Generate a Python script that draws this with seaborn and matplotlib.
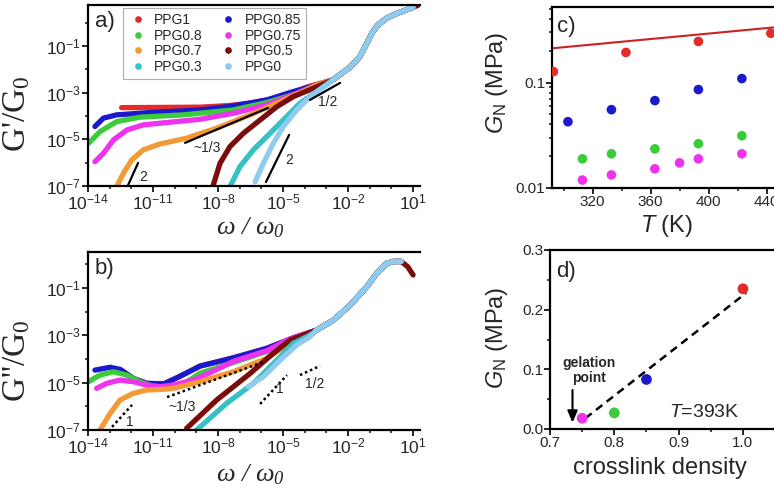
import numpy as np
import pandas as pd
import matplotlib
matplotlib.use("Agg")
import matplotlib.pyplot as plt
import matplotlib.ticker as mticker
from matplotlib.lines import Line2D
import seaborn as sns

###############
# chart data  #
###############
# samples in drawing order (later ones sit on top)
samples = ['PPG1', 'PPG0.85', 'PPG0.8', 'PPG0.75', 'PPG0.7', 'PPG0.5', 'PPG0.3', 'PPG0']
colors = ['#e32b2b', '#1a1acc', '#3bcc3b', '#ee33ee', '#f39a36', '#7b0c0c', '#35c1c6', '#8ecbee']
legend_order = ['PPG1', 'PPG0.8', 'PPG0.7', 'PPG0.3', 'PPG0.85', 'PPG0.75', 'PPG0.5', 'PPG0']

# panel a: G'/G0, log10 values
# shared high frequency master curve
gp_master_x = [-2.7, -1.9, -1.45, -1.15, -0.9, -0.65, -0.25, 0.2, 0.6, 1.0]
gp_master_y = [-2.45, -1.9, -1.45, -0.9, -0.45, -0.12, 0.18, 0.38, 0.52, 0.66]
# low frequency part of every sample
gp_x_ppg1 = [-12.45, -10.5, -8.83, -7.5, -6.52, -5.0, -3.91]
gp_y_ppg1 = [-3.64, -3.63, -3.62, -3.55, -3.45, -3.17, -2.76]
gp_x_ppg085 = [-13.68, -13.29, -12.68, -11.14, -8.83, -7.3, -5.75, -4.53, -3.6]
gp_y_ppg085 = [-4.45, -4.09, -3.95, -3.85, -3.74, -3.57, -3.31, -2.95, -2.72]
gp_x_ppg08 = [-13.98, -13.45, -12.68, -11.6, -9.6, -7.29, -5.75, -4.22, -3.5]
gp_y_ppg08 = [-5.17, -4.67, -4.24, -4.05, -3.95, -3.74, -3.42, -3.0, -2.75]
gp_x_ppg075 = [-13.68, -13.29, -12.83, -12.21, -11.45, -10.37, -8.83, -7.29, -5.75, -4.53, -3.61]
gp_y_ppg075 = [-5.96, -5.6, -5.03, -4.6, -4.38, -4.28, -4.14, -3.88, -3.52, -3.09, -2.74]
gp_x_ppg07 = [-12.68, -12.37, -11.98, -11.45, -10.68, -9.45, -8.06, -6.52, -5.29, -4.22, -3.45]
gp_y_ppg07 = [-7.03, -6.46, -5.88, -5.45, -5.2, -4.95, -4.52, -3.95, -3.45, -3.0, -2.67]
gp_x_ppg05 = [-8.22, -7.91, -7.45, -6.83, -6.06, -5.29, -4.53, -3.6]
gp_y_ppg05 = [-6.96, -6.03, -5.31, -4.74, -4.17, -3.6, -3.17, -2.81]
gp_x_ppg03 = [-7.45, -6.99, -6.37, -5.75, -4.99, -4.22, -3.45]
gp_y_ppg03 = [-7.03, -6.17, -5.45, -4.88, -4.17, -3.45, -2.95]
gp_x_ppg0 = [-6.29, -5.91, -5.45, -4.99, -4.37, -3.76, -2.99]
gp_y_ppg0 = [-6.82, -6.03, -5.17, -4.45, -3.74, -3.17, -2.67]
gp_tail_x_ppg05 = [1.3]
gp_tail_y_ppg05 = [0.78]

# panel b: G''/G0
gpp_master_x = [-3.45, -2.68, -1.91, -1.14, -0.68, -0.22, 0.1, 0.45]
gpp_master_y = [-2.78, -2.36, -1.73, -0.95, -0.39, 0.04, 0.12, 0.12]
gpp_x_ppg1 = [-12.52, -11.91, -11.29, -10.5, -9.8, -8.83, -7.29, -5.75, -4.5]
gpp_y_ppg1 = [-4.44, -4.82, -5.03, -5.05, -4.75, -4.3, -3.95, -3.55, -3.1]
gpp_x_ppg085 = [-13.68, -12.98, -12.52, -11.91, -11.29, -10.5, -9.8, -8.83, -7.29, -5.75, -4.5]
gpp_y_ppg085 = [-4.47, -4.35, -4.44, -4.82, -5.03, -5.05, -4.75, -4.3, -3.95, -3.55, -3.1]
gpp_x_ppg08 = [-13.98, -13.45, -12.83, -12.21, -11.6, -10.99, -10.37, -9.5, -8.83, -7.29, -5.75, -4.5]
gpp_y_ppg08 = [-4.96, -4.68, -4.54, -4.68, -4.96, -5.17, -5.24, -5.0, -4.6, -4.15, -3.68, -3.12]
gpp_x_ppg075 = [-13.6, -13.14, -12.52, -11.91, -11.29, -10.68, -10.06, -9.14, -8.3, -7.29, -5.75, -4.68]
gpp_y_ppg075 = [-5.24, -5.03, -4.89, -4.96, -5.1, -5.17, -5.1, -4.89, -4.55, -4.1, -3.65, -3.15]
gpp_x_ppg07 = [-13.45, -12.98, -12.52, -11.91, -11.29, -10.52, -10.06, -8.83, -7.29, -5.75, -4.83, -4.22]
gpp_y_ppg07 = [-7.0, -6.3, -5.73, -5.45, -5.31, -5.28, -5.24, -4.96, -4.54, -3.97, -3.41, -3.13]
gpp_x_ppg05 = [-9.45, -8.06, -6.52, -5.45, -4.68]
gpp_y_ppg05 = [-6.93, -5.73, -4.61, -3.76, -3.2]
gpp_x_ppg03 = [-8.99, -7.6, -6.37, -5.29, -4.53, -3.6]
gpp_y_ppg03 = [-7.0, -5.87, -5.03, -4.05, -3.34, -2.92]
gpp_x_ppg0 = [-6.6, -5.91, -5.14, -4.37, -3.8]
gpp_y_ppg0 = [-5.17, -4.75, -4.05, -3.41, -3.08]
gpp_tail_x_ppg05 = [0.75, 1.0]
gpp_tail_y_ppg05 = [-0.1, -0.45]

# scaling guide lines (log10 x0, x1, y0, y1) and their labels
a_guides = [(-9.52, -5.69, -5.15, -3.65), (-12.15, -11.69, -6.96, -6.01),
            (-5.79, -4.72, -6.83, -4.81), (-3.76, -2.37, -3.31, -2.58)]
a_guide_text = [('~1/3', -8.5, -5.37), ('2', -11.46, -6.61), ('2', -4.72, -5.88), ('1/2', -2.92, -3.39)]
b_guides = [(-12.89, -11.97, -6.87, -5.94), (-10.35, -5.92, -5.61, -4.13),
            (-6.06, -4.82, -5.90, -4.68), (-4.22, -3.29, -4.68, -4.29)]
b_guide_text = [('1', -12.06, -6.66), ('~1/3', -9.66, -6.03), ('1', -5.14, -5.26), ('1/2', -3.52, -5.06)]

# panel c: plateau modulus vs temperature
c_T_ppg1 = [293, 343, 393, 443]
c_G_ppg1 = [0.127, 0.193, 0.245, 0.293]
c_T_ppg085 = [303, 333, 363, 393, 423]
c_G_ppg085 = [0.0425, 0.0553, 0.0674, 0.0858, 0.109]
c_T_ppg08 = [313, 333, 363, 393, 423]
c_G_ppg08 = [0.0189, 0.0211, 0.0235, 0.0263, 0.0313]
c_T_ppg075 = [313, 333, 363, 380, 393, 423]
c_G_ppg075 = [0.0119, 0.0133, 0.0152, 0.0173, 0.0189, 0.0211]
c_fit_T = [292, 450]
c_fit_G = [0.211, 0.338]

# panel d: plateau modulus vs crosslink density at 393 K
d_density = [1.0, 0.85, 0.8, 0.75]
d_GN = [0.235, 0.083, 0.027, 0.018]
d_samples = ['PPG1', 'PPG0.85', 'PPG0.8', 'PPG0.75']
d_fit_x = [0.755, 1.005]
d_fit_y = [0.018, 0.228]

######################
# build data frames  #
######################
def curve(name, lx, ly, mx, my, tx=(), ty=()):
    lw = np.r_[lx, mx, tx]
    lg = np.r_[ly, my, ty]
    return pd.DataFrame({'sample': name, 'w': 10.0 ** lw, 'G': 10.0 ** lg})

df_a = pd.concat([
    curve('PPG1', gp_x_ppg1, gp_y_ppg1, gp_master_x, gp_master_y),
    curve('PPG0.85', gp_x_ppg085, gp_y_ppg085, gp_master_x, gp_master_y),
    curve('PPG0.8', gp_x_ppg08, gp_y_ppg08, gp_master_x, gp_master_y),
    curve('PPG0.75', gp_x_ppg075, gp_y_ppg075, gp_master_x, gp_master_y),
    curve('PPG0.7', gp_x_ppg07, gp_y_ppg07, gp_master_x, gp_master_y),
    curve('PPG0.5', gp_x_ppg05, gp_y_ppg05, gp_master_x, gp_master_y, gp_tail_x_ppg05, gp_tail_y_ppg05),
    curve('PPG0.3', gp_x_ppg03, gp_y_ppg03, gp_master_x, gp_master_y),
    curve('PPG0', gp_x_ppg0, gp_y_ppg0, gp_master_x, gp_master_y),
])
df_b = pd.concat([
    curve('PPG1', gpp_x_ppg1, gpp_y_ppg1, gpp_master_x, gpp_master_y),
    curve('PPG0.85', gpp_x_ppg085, gpp_y_ppg085, gpp_master_x, gpp_master_y),
    curve('PPG0.8', gpp_x_ppg08, gpp_y_ppg08, gpp_master_x, gpp_master_y),
    curve('PPG0.75', gpp_x_ppg075, gpp_y_ppg075, gpp_master_x, gpp_master_y),
    curve('PPG0.7', gpp_x_ppg07, gpp_y_ppg07, gpp_master_x, gpp_master_y),
    curve('PPG0.5', gpp_x_ppg05, gpp_y_ppg05, gpp_master_x, gpp_master_y, gpp_tail_x_ppg05, gpp_tail_y_ppg05),
    curve('PPG0.3', gpp_x_ppg03, gpp_y_ppg03, gpp_master_x, gpp_master_y),
    curve('PPG0', gpp_x_ppg0, gpp_y_ppg0, gpp_master_x, gpp_master_y),
])
df_c = pd.concat([
    pd.DataFrame({'sample': 'PPG1', 'T': c_T_ppg1, 'G': c_G_ppg1}),
    pd.DataFrame({'sample': 'PPG0.85', 'T': c_T_ppg085, 'G': c_G_ppg085}),
    pd.DataFrame({'sample': 'PPG0.8', 'T': c_T_ppg08, 'G': c_G_ppg08}),
    pd.DataFrame({'sample': 'PPG0.75', 'T': c_T_ppg075, 'G': c_G_ppg075}),
])
df_d = pd.DataFrame({'sample': d_samples, 'x': d_density, 'G': d_GN})
pal = dict(zip(samples, colors))

#########
# style #
#########
sns.set_style('ticks')
plt.rcParams['font.family'] = ['Liberation Sans', 'DejaVu Sans']
plt.rcParams['mathtext.fontset'] = 'custom'
plt.rcParams['mathtext.rm'] = 'Liberation Sans'
plt.rcParams['mathtext.it'] = 'Liberation Sans:italic'
plt.rcParams['mathtext.bf'] = 'Liberation Sans:bold'
plt.rcParams['mathtext.default'] = 'regular'
plt.rcParams['axes.linewidth'] = 1.6
plt.rcParams['axes.edgecolor'] = 'black'

W, H = 774, 493
fig = plt.figure(figsize=(W / 100, H / 100), dpi=100)

def box(l, t, r, b):
    return [l / W, 1 - b / H, (r - l) / W, (b - t) / H]

ax_a = fig.add_axes(box(88, 5, 419.6, 186))
ax_b = fig.add_axes(box(88, 252, 419.6, 430))
ax_c = fig.add_axes(box(552, 7, 781, 188))
ax_d = fig.add_axes(box(550, 250, 781.5, 429))

def dec_fmt(v, pos):
    return r'$\mathregular{10^{%d}}$' % int(round(np.log10(v)))

serif = ['Liberation Serif', 'DejaVu Serif']

# panels a and b
for ax, df, ymax in ((ax_a, df_a, 10 ** 0.76), (ax_b, df_b, 10 ** 0.52)):
    sns.lineplot(data=df, x='w', y='G', hue='sample', hue_order=samples, palette=pal,
                 estimator=None, sort=False, lw=3.8, solid_capstyle='round',
                 legend=False, ax=ax)
    ax.set_xscale('log')
    ax.set_yscale('log')
    ax.set_xlim(1e-14, 10 ** 1.3)
    ax.set_ylim(1e-7, ymax)
    ax.xaxis.set_major_locator(mticker.FixedLocator(10.0 ** np.arange(-14, 2, 3)))
    ax.xaxis.set_minor_locator(mticker.FixedLocator(10.0 ** np.arange(-14, 2, 1)))
    ax.yaxis.set_major_locator(mticker.FixedLocator(10.0 ** np.arange(-7, 1, 2)))
    ax.yaxis.set_minor_locator(mticker.FixedLocator(10.0 ** np.arange(-7, 1, 1)))
    ax.xaxis.set_major_formatter(mticker.FuncFormatter(dec_fmt))
    ax.yaxis.set_major_formatter(mticker.FuncFormatter(dec_fmt))
    ax.xaxis.set_minor_formatter(mticker.NullFormatter())
    ax.yaxis.set_minor_formatter(mticker.NullFormatter())
    ax.tick_params(which='major', direction='out', length=4, width=1.4, labelsize=12.5, pad=1)
    ax.tick_params(which='minor', direction='out', length=2.5, width=1.2)
    ax.spines['right'].set_visible(False)
    ax.set_xlabel('ω / ω$_0$', family=serif, style='italic', fontsize=19, va='center')

ax_a.set_ylabel("G'/G$_0$", family=serif, fontsize=24, va='center')
ax_b.set_ylabel("G''/G$_0$", family=serif, fontsize=24, va='center')
ax_a.yaxis.set_label_coords(-0.214, 0.40)
ax_b.yaxis.set_label_coords(-0.214, 0.39)
ax_a.xaxis.set_label_coords(0.49, -0.23)
ax_b.xaxis.set_label_coords(0.49, -0.25)

for x0, x1, y0, y1 in a_guides:
    ax_a.plot([10 ** x0, 10 ** x1], [10 ** y0, 10 ** y1], color='black', lw=1.6)
for t, x, y in a_guide_text:
    ax_a.text(10 ** x, 10 ** y, t, fontsize=10, ha='center', va='center')
for x0, x1, y0, y1 in b_guides:
    ax_b.plot([10 ** x0, 10 ** x1], [10 ** y0, 10 ** y1], color='black', lw=1.8,
              linestyle=(0, (1, 1.2)))
for t, x, y in b_guide_text:
    ax_b.text(10 ** x, 10 ** y, t, fontsize=10, ha='center', va='center')

ax_a.text(0.02, 0.965, 'a)', transform=ax_a.transAxes, fontsize=16, va='top')
ax_b.text(0.02, 0.965, 'b)', transform=ax_b.transAxes, fontsize=16, va='top')

handles = [Line2D([], [], marker='o', linestyle='none', markersize=3.8,
                  color=pal[s], label=s) for s in legend_order]
leg = ax_a.legend(handles=handles, ncol=2, loc='upper left',
                  bbox_to_anchor=((123 - 88) / 331.6, 1 - 3 / 181),
                  fontsize=10, frameon=True, fancybox=False, borderpad=0.35,
                  handlelength=1.4, handletextpad=0.5, columnspacing=1.1,
                  labelspacing=0.12, borderaxespad=0)
leg.get_frame().set_edgecolor('#9a9a9a')
leg.get_frame().set_linewidth(0.8)

# panel c
sns.scatterplot(data=df_c, x='T', y='G', hue='sample', palette=pal, s=48,
                edgecolor='none', legend=False, ax=ax_c, zorder=3)
sns.lineplot(x=c_fit_T, y=c_fit_G, color='#cc2222', lw=1.5, ax=ax_c)
ax_c.set_yscale('log')
ax_c.set_xlim(292, 450)
ax_c.set_ylim(0.01, 0.52)
ax_c.xaxis.set_major_locator(mticker.FixedLocator([320, 360, 400, 440]))
ax_c.xaxis.set_minor_locator(mticker.FixedLocator([300, 340, 380, 420]))
ax_c.yaxis.set_major_locator(mticker.FixedLocator([0.01, 0.1]))
ax_c.yaxis.set_major_formatter(mticker.FixedFormatter(['0.01', '0.1']))
ax_c.yaxis.set_minor_locator(mticker.LogLocator(base=10, subs=np.arange(2, 10), numticks=10))
ax_c.yaxis.set_minor_formatter(mticker.NullFormatter())
ax_c.tick_params(which='major', direction='out', length=4, width=1.4, labelsize=11, pad=1)
ax_c.tick_params(which='minor', direction='out', length=2.5, width=1.2)
ax_c.set_xlabel('$\\mathit{T}$ (K)', fontsize=17, va='center')
ax_c.set_ylabel('$\\mathit{G}_\\mathregular{N}$ (MPa)', fontsize=17, va='center')
ax_c.xaxis.set_label_coords(0.50, -0.21)
ax_c.yaxis.set_label_coords(-0.24, 0.58)
ax_c.text(0.022, 0.95, 'c)', transform=ax_c.transAxes, fontsize=16, va='top')

# panel d
sns.lineplot(x=d_fit_x, y=d_fit_y, color='black', lw=1.8, linestyle=(0, (3.2, 2.2)), ax=ax_d)
sns.scatterplot(data=df_d, x='x', y='G', hue='sample', palette=pal, s=60,
                edgecolor='none', legend=False, ax=ax_d, zorder=3)
ax_d.set_xlim(0.7, 1.06)
ax_d.set_ylim(0, 0.3)
ax_d.xaxis.set_major_locator(mticker.FixedLocator([0.7, 0.8, 0.9, 1.0]))
ax_d.xaxis.set_minor_locator(mticker.FixedLocator([0.75, 0.85, 0.95, 1.05]))
ax_d.yaxis.set_major_locator(mticker.FixedLocator([0.0, 0.1, 0.2, 0.3]))
ax_d.yaxis.set_minor_locator(mticker.FixedLocator([0.05, 0.15, 0.25]))
ax_d.xaxis.set_major_formatter(mticker.FormatStrFormatter('%.1f'))
ax_d.yaxis.set_major_formatter(mticker.FormatStrFormatter('%.1f'))
ax_d.tick_params(which='major', direction='out', length=4, width=1.4, labelsize=11, pad=1)
ax_d.tick_params(which='minor', direction='out', length=2.5, width=1.2)
ax_d.set_xlabel('crosslink density', fontsize=17, va='center')
ax_d.set_ylabel('$\\mathit{G}_\\mathregular{N}$ (MPa)', fontsize=17, va='center')
ax_d.xaxis.set_label_coords(0.476, -0.22)
ax_d.yaxis.set_label_coords(-0.23, 0.51)
ax_d.text(0.025, 0.94, 'd)', transform=ax_d.transAxes, fontsize=16, va='top')
ax_d.text(0.761, 0.098, 'gelation\npoint', fontsize=10, fontweight='bold',
          ha='center', va='center', linespacing=1.1)
ax_d.annotate('', xy=(0.735, 0.006), xytext=(0.735, 0.07),
              arrowprops=dict(arrowstyle='-|>,head_width=0.3,head_length=0.7',
                              color='black', lw=1.5))
ax_d.text(0.995, 0.027, '$\\mathit{T}$=393K', fontsize=14, ha='right', va='center')

fig.savefig('out.png', dpi=100)
